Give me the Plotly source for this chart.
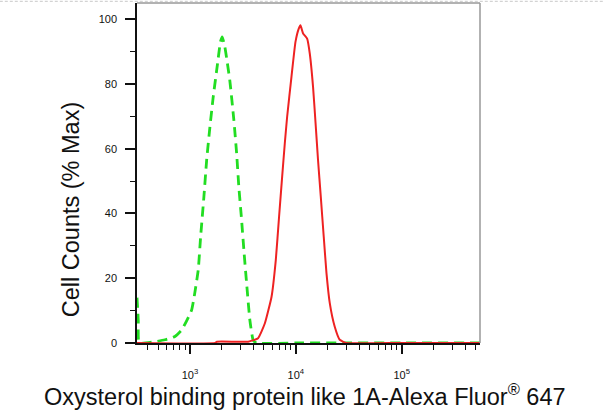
import plotly.graph_objects as go

# Control (isotype) histogram: log10 intensity, % max
ctrl_log = [2.50, 2.512, 2.52, 2.67, 2.764, 2.858, 2.922, 3.016, 3.078, 3.101, 3.132,
            3.158, 3.189, 3.220, 3.261, 3.288, 3.305, 3.330, 3.377, 3.415, 3.441,
            3.462, 3.488, 3.512, 3.538, 3.566, 3.597, 3.629, 4.0, 4.5, 5.0, 5.74]
ctrl_val = [14.0, 7.0, 0.0, 0.4, 1.0, 2.0, 4.0, 10.2, 22.5, 32.8, 45.2,
            56.5, 66.8, 76.0, 86.3, 93.0, 94.5, 91.4, 81.0, 68.8, 58.6,
            48.2, 38.0, 27.7, 17.4, 7.1, 0.9, 0.0, 0.0, 0.0, 0.0, 0.0]

# Stained sample histogram
samp_log = [2.50, 3.24, 3.255, 3.55, 3.644, 3.708, 3.771, 3.811, 3.842, 3.871, 3.896,
            3.918, 3.959, 3.997, 4.028, 4.044, 4.069, 4.107, 4.132, 4.163, 4.189,
            4.210, 4.236, 4.264, 4.290, 4.321, 4.368, 4.415, 4.478, 5.0, 5.74]
samp_val = [0.0, 0.0, 0.4, 0.4, 1.5, 6.1, 14.3, 25.6, 39.0, 51.3, 61.6,
            69.8, 82.2, 93.0, 97.1, 98.1, 95.6, 94.0, 89.4, 79.1, 66.8,
            56.5, 45.2, 32.8, 21.5, 12.3, 5.0, 1.0, 0.0, 0.0, 0.0]

x_major = [1e3, 1e4, 1e5]
x_major_text = ["10<sup>3</sup>", "10<sup>4</sup>", "10<sup>5</sup>"]
x_minor = [m * 10 ** e for e in (2, 3, 4, 5) for m in range(2, 10) if 10 ** 2.5 <= m * 10 ** e <= 5.5e5]
y_major = [0, 20, 40, 60, 80, 100]
y_minor = [10, 30, 50, 70, 90]

INK = "#111111"

fig = go.Figure()
fig.add_trace(go.Scatter(x=[10 ** v for v in ctrl_log], y=ctrl_val, mode="lines",
                         line=dict(color="#22dd22", width=2.8, dash="10px,6px", shape="spline", smoothing=0.4),
                         showlegend=False))
fig.add_trace(go.Scatter(x=[10 ** v for v in samp_log], y=samp_val, mode="lines",
                         line=dict(color="#ee2222", width=2, shape="spline", smoothing=0.4),
                         showlegend=False))

fig.update_layout(
    width=604, height=411,
    margin=dict(l=137, r=124, t=3, b=68),
    paper_bgcolor="white", plot_bgcolor="white",
    font=dict(family="Liberation Sans, Arial, sans-serif", color=INK),
    xaxis=dict(type="log", range=[2.5, 5.74], showgrid=False, zeroline=False,
               tickmode="array", tickvals=x_major, ticktext=x_major_text,
               ticks="outside", ticklen=9, tickwidth=2, tickcolor=INK,
               tickfont=dict(size=11, color=INK), ticklabelstandoff=12,
               showline=True, linecolor=INK, linewidth=1.5,
               mirror=False,
               minor=dict(tickmode="array", tickvals=x_minor, ticks="outside", ticklen=5,
                          tickwidth=1.2, tickcolor=INK)),
    yaxis=dict(range=[0, 105], showgrid=False, zeroline=False,
               tickmode="array", tickvals=y_major,
               ticks="outside", ticklen=10, tickwidth=2, tickcolor=INK,
               tickfont=dict(size=11, color=INK), ticklabelstandoff=6,
               showline=True, linecolor=INK, linewidth=1.5,
               minor=dict(tickmode="array", tickvals=y_minor, ticks="outside", ticklen=5,
                          tickwidth=1.2, tickcolor=INK)),
    shapes=[
        dict(type="line", xref="paper", yref="paper", x0=0, x1=1, y0=1, y1=1,
             line=dict(color="#999999", width=1.5)),
        dict(type="line", xref="paper", yref="paper", x0=1, x1=1, y0=0, y1=1,
             line=dict(color="#999999", width=1.5)),
        dict(type="line", xref="paper", yref="paper", x0=-0.4, x1=1.37, y0=1.005, y1=1.005,
             line=dict(color="#c8c8c8", width=1, dash="3px,2px")),
    ],
    annotations=[
        dict(text="Oxysterol binding protein like 1A-Alexa Fluor<sup>®</sup> 647",
             xref="paper", yref="paper", x=0.49, y=-0.153, xanchor="center", yanchor="middle",
             showarrow=False, font=dict(size=23.5, color=INK)),
        dict(text="Cell Counts (% Max)", xref="paper", yref="paper",
             x=-0.192, y=0.391, xanchor="center", yanchor="middle", textangle=-90,
             showarrow=False, font=dict(size=23.5, color=INK)),
    ],
)

fig.write_html("out.html", config={"displayModeBar": False},
               post_script="document.body.style.margin='0';document.body.style.overflow='hidden';")
